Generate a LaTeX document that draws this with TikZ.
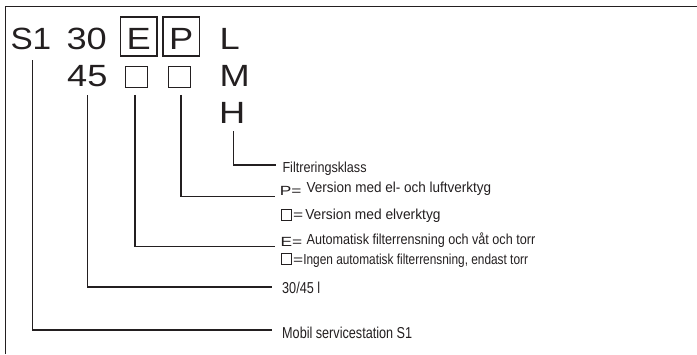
\documentclass[tikz,border=0pt]{standalone}
\usepackage{graphicx}
\usepackage{fontspec}
\setmainfont{Liberation Sans}
\newfontfamily\codefont[FakeStretch=1.18]{Liberation Sans}
\newfontfamily\keyfont[FakeStretch=1.3]{Liberation Sans}
\newfontfamily\notefont[FakeStretch=0.87]{Liberation Sans}
\newfontfamily\tagfont[FakeStretch=0.8]{Liberation Sans}
\usepackage{xcolor}
\definecolor{InkBlack}{HTML}{231F20}
\newcommand{\keyeq}{{\keyfont\fontsize{13.3}{15}\selectfont=}}

\begin{document}
\begin{tikzpicture}[x=1pt,y=-1pt,line join=miter,
  code/.style={anchor=base west,inner sep=0pt,text=InkBlack,
    font=\codefont\fontsize{30.7}{30.7}\selectfont},
  codebox/.style={draw=InkBlack,line width=1.3pt,anchor=base,inner sep=0pt,
    minimum width=36.5pt,text height=32pt,text depth=7pt,text=InkBlack,
    font=\codefont\fontsize{30.7}{30.7}\selectfont},
  blank/.style={draw=InkBlack,line width=1pt,inner sep=0pt,
    minimum width=22.5pt,minimum height=20.5pt},
  note/.style={anchor=base west,inner sep=0pt,text=InkBlack,
    font=\notefont\fontsize{14.5}{17}\selectfont},
  tag/.style={anchor=base west,inner sep=0pt,text=InkBlack,
    font=\tagfont\fontsize{15.8}{18}\selectfont},
  key/.style={anchor=base west,inner sep=0pt,text=InkBlack,
    font=\keyfont\fontsize{13.3}{15}\selectfont},
  keybox/.style={draw=InkBlack,line width=0.9pt,inner sep=0pt,
    minimum width=10.5pt,minimum height=11pt},
  lead/.style={draw=InkBlack,line width=1.2pt},
  frame/.style={draw=InkBlack,line width=1.4pt}]
\useasboundingbox (0,0) rectangle (697,354);
\draw[frame] (5.5,354) -- (5.5,6.7) -- (697,6.7);

% type code
\node[code] (s1) at (10.3,49) {\scalebox{0.92}[1]{S1}};
\node[code] (vol30) at (66.4,49) {30};
\node[code] (vol45) at (67,86) {45};
\node[codebox] (boxE) at (138.7,49) {E};
\node[codebox] (boxP) at (181.3,49) {P};
\node[blank] (sqE) at (136.3,77) {};
\node[blank] (sqP) at (179.5,77) {};
\node[code] (clsL) at (219.3,49) {L};
\node[code] (clsM) at (219.3,86) {M};
\node[code] (clsH) at (219,123) {H};

% explanations
\node[note] (lblH) at (282.3,172.7) {Filtreringsklass};
\node[key] (keyP) at (279.7,195) {P=};
\node[note] (lblP) at (306.5,192.3) {\scalebox{1.07}[1]{Version med el- och luftverktyg}};
\node[keybox] (keyPsq) at (286.3,215) {};
\node[note] (lblPsq) at (293,219.3) {\keyeq\hspace{2pt}\scalebox{1.09}[1]{Version med elverktyg}};
\node[key] (keyE) at (280.3,246.7) {E=};
\node[note] (lblE) at (306.5,244) {Automatisk filterrensning och våt och torr};
\node[keybox] (keyEsq) at (286.3,259) {};
\node[note] (lblEsq) at (293,264.3) {\keyeq\scalebox{0.94}[1]{Ingen automatisk filterrensning, endast torr}};
\node[tag] (lblVol) at (282,293) {30/45 l};
\node[tag] (lblS1) at (282,338) {Mobil servicestation S1};

\coordinate (endH) at (275.5,165);
\coordinate (endP) at (275,196.7);
\coordinate (endE) at (275,246.7);
\coordinate (endVol) at (272,287);
\coordinate (endS1) at (272,330);

\draw[lead] ([xshift=0.9pt,yshift=-8pt]clsH.south) |- (endH);
\draw[lead] ([xshift=1.5pt,yshift=-7pt]sqP.south) |- (endP);
\draw[lead] ([xshift=-1.3pt,yshift=-7pt]sqE.south) |- (endE);
\draw[lead] ([yshift=-8.5pt]vol45.south) |- (endVol);
\draw[lead] ([xshift=1.3pt,yshift=-10.5pt]s1.south) |- (endS1);
\end{tikzpicture}
\end{document}
